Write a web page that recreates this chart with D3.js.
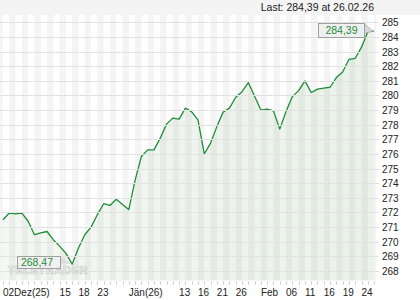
<!DOCTYPE html>
<html><head><meta charset="utf-8">
<script src="https://cdn.jsdelivr.net/npm/d3@7"></script>
<style>
html,body{margin:0;padding:0;background:#fff;}
svg{display:block;font-family:"Liberation Sans",Arial,sans-serif;}
</style></head>
<body>
<script>
const values = [271.5,271.96,271.9,271.96,271.4,270.48,270.6,270.7,270.14,269.7,
  269.2,268.47,269.57,270.48,271.0,271.85,272.6,272.48,272.9,272.55,
  272.2,274.2,275.83,276.28,276.28,277.08,278.04,278.45,278.38,279.13,
  278.88,278.33,276.0,276.74,277.87,278.86,279.13,279.88,280.26,280.88,
  279.95,279.0,279.06,278.95,277.7,278.9,279.92,280.33,281.0,280.2,
  280.43,280.5,280.56,281.22,281.6,282.47,282.54,283.3,284.36,284.39];
const tickIdx = [0,9,12,15,20,28,31,34,37,41,45,48,51,54,57];
const tickLabels = ["02Dez(25)","15","18","23","Jän(26)","13","16","21","26","Feb","06","11","16","19","24"];
const yTicks = d3.range(268, 286);
const lastLabel = "284,39", minLabel = "268,47";
const title = "Last: 284,39 at 26.02.26";

const W = 420, H = 300;
const plotL = 0, plotR = 376, plotT = 15, plotB = 280.5;
const svg = d3.select("body").append("svg").attr("width", W).attr("height", H);
const x = d3.scaleLinear().domain([0, values.length - 1]).range([3, 374.1]);
const y = d3.scaleLinear().domain([268, 285]).range([271, 22.3]);

svg.append("rect").attr("x",0).attr("y",0).attr("width",W).attr("height",plotT).attr("fill","#f4f4f4");
svg.append("rect").attr("x",plotL).attr("y",plotT).attr("width",plotR-plotL).attr("height",plotB-plotT).attr("fill","#f4f4f4");
const clip = svg.append("clipPath").attr("id","pc").append("rect")
  .attr("x",plotL).attr("y",plotT).attr("width",plotR-plotL).attr("height",plotB-plotT);
const pg = svg.append("g").attr("clip-path","url(#pc)");
pg.selectAll("rect.band").data(d3.range(0, values.length, 2)).join("rect")
  .attr("x", i => x(i)).attr("y", plotT).attr("width", x(1)-x(0)).attr("height", plotB-plotT)
  .attr("fill","#fff");

// grid
svg.append("g").selectAll("line").data(yTicks).join("line")
  .attr("x1",0).attr("x2",379).attr("y1",d=>Math.round(y(d))+0.5).attr("y2",d=>Math.round(y(d))+0.5)
  .attr("stroke","#e2e2e2").attr("stroke-width",1);

// area gradient
const defs = svg.append("defs");
const gr = defs.append("linearGradient").attr("id","ag").attr("x1","0").attr("x2","1").attr("y1","0").attr("y2","0");
gr.append("stop").attr("offset","0").attr("stop-color","#2a7a20").attr("stop-opacity",0.05);
gr.append("stop").attr("offset","1").attr("stop-color","#2a7a20").attr("stop-opacity",0.1);
pg.append("path").datum(values)
  .attr("d", d3.area().x((d,i)=>x(i)).y0(plotB).y1(d=>y(d)))
  .attr("fill","url(#ag)");

// watermark
svg.append("text").attr("x",8).attr("y",274).text("TELETRADER")
  .attr("font-size",11).attr("font-weight","bold").attr("letter-spacing",0.6)
  .attr("fill","#f6f6f6").attr("stroke","#c8c8c8").attr("stroke-width",0.7);

pg.append("path").datum(values)
  .attr("d", d3.line().x((d,i)=>x(i)).y(d=>y(d)))
  .attr("fill","none").attr("stroke","#1f8c38").attr("stroke-width",1.3).attr("stroke-linejoin","round");

// y labels
svg.append("g").selectAll("text").data(yTicks).join("text")
  .attr("x",382).attr("y",d=>y(d)+4).text(d=>d)
  .attr("font-size",10).attr("fill","#222");

// x ticks
svg.append("g").selectAll("line").data(d3.range(values.length)).join("line")
  .attr("x1",i=>Math.round(x(i))+0.5).attr("x2",i=>Math.round(x(i))+0.5)
  .attr("y1",plotB+1).attr("y2",plotB+4).attr("stroke","#c8c8c8");
svg.append("g").selectAll("text").data(tickIdx).join("text")
  .attr("x",i=>x(i)).attr("y",295.5).text((d,k)=>tickLabels[k])
  .attr("font-size",10).attr("fill","#222");

// title
svg.append("text").attr("x",374).attr("y",11).attr("text-anchor","end")
  .attr("font-size",10.5).attr("fill","#222").text(title);

// last value label
const li = values.length-1, lx = x(li), ly = y(values[li]);
svg.append("path").attr("d",`M364,23.5 L${lx-1},${ly} L364,33.5 Z`).attr("fill","#d8d8d8").attr("stroke","#aaa").attr("stroke-width",0.8);
svg.append("rect").attr("x",318.5).attr("y",23.5).attr("width",46).attr("height",14)
  .attr("fill","#f0f0f0").attr("stroke","#a0a0a0");
svg.append("text").attr("x",341.5).attr("y",34.3).attr("text-anchor","middle")
  .attr("font-size",10.5).attr("fill","#1f8c38").text(lastLabel);

// min value label
const mi = values.indexOf(d3.min(values)), mx = x(mi), my = y(values[mi]);
svg.append("path").attr("d",`M60.5,256.5 L${mx-1},${my} L60.5,263 Z`).attr("fill","#dcdcdc").attr("stroke","none");
svg.append("rect").attr("x",17.5).attr("y",256.5).attr("width",43).attr("height",12)
  .attr("fill","#f0f0f0").attr("fill-opacity",0.85).attr("stroke","#a0a0a0");
svg.append("text").attr("x",37).attr("y",266).attr("text-anchor","middle")
  .attr("font-size",10.5).attr("fill","#1f8c38").text(minLabel);
</script>
</body></html>
